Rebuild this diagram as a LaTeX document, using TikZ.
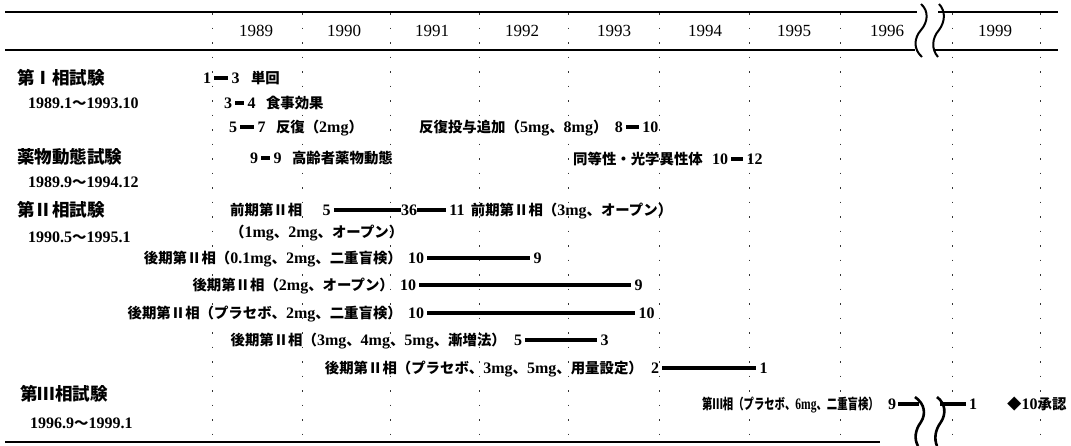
\documentclass[tikz,border=0pt]{standalone}
\usepackage{fontspec}
\usepackage{graphicx}
\setmainfont{Liberation Serif}
\newfontfamily\cjk{Noto Sans CJK JP}[Scale=0.9]
\newcommand\J[1]{{\cjk #1}}
\usetikzlibrary{positioning}
\newcommand\bodyfont{\fontsize{16}{18}\selectfont\bfseries}
\newcommand\headfont{\fontsize{19.5}{22}\selectfont\bfseries}
\newcommand\yrfont{\fontsize{17}{19}\selectfont}
\begin{document}
\begin{tikzpicture}[x=1pt,y=-1pt,
  lbl/.style={inner sep=0pt,anchor=west,font=\bodyfont,text height=11pt,text depth=0pt},
  lbr/.style={inner sep=0pt,anchor=east,font=\bodyfont,text height=11pt,text depth=0pt},
  num/.style={inner sep=0pt,font=\bodyfont,text height=11pt,text depth=0pt},
  head/.style={inner sep=0pt,anchor=west,font=\headfont},
  datel/.style={inner sep=0pt,anchor=west,font=\bodyfont},
  yr/.style={inner sep=0pt,font=\yrfont},
  bar/.style={line width=4.5pt,shorten <=3pt,shorten >=3pt},
  rule/.style={line width=1.4pt},
  gridl/.style={line width=0.9pt,dash pattern=on 1.5pt off 13pt,black!80},
  wave/.style={line width=2pt},
  node distance=10pt]
\useasboundingbox[fill=white] (0,0) rectangle (1071,445);

% dotted year separators
\foreach \x in {212,302,390,479,568,659,749,840,952,1040}
  \draw[gridl] (\x,13) -- (\x,441);

% rules
\draw[rule] (5,12) -- (917,12);
\draw[rule] (938,12) -- (1058,12);
\draw[rule] (5,50) -- (915,50);
\draw[rule] (935,50) -- (1058,50);
\draw[rule] (5,442) -- (880,442);

% years
\node[yr] (y89) at (256,31) {1989};
\node[yr] (y90) at (344,31) {1990};
\node[yr] (y91) at (432,31) {1991};
\node[yr] (y92) at (522,31) {1992};
\node[yr] (y93) at (614,31) {1993};
\node[yr] (y94) at (705,31) {1994};
\node[yr] (y95) at (794,31) {1995};
\node[yr] (y96) at (887,31) {1996};
\node[yr] (y99) at (995,31) {1999};

% header breaks
\draw[wave] (921,4) .. controls (929,11) and (928,22) .. (921,30) .. controls (914,38) and (913,49) .. (922,57);
\draw[wave] (939,4) .. controls (946,11) and (945,22) .. (939,30) .. controls (932,38) and (931,49) .. (938,57);

% left headings
\node[head] (h1) at (17,78) {\J{第Ⅰ相試験}};
\node[datel] (d1) at (28,103) {1989.1\J{～}1993.10};
\node[head] (h2) at (17,157) {\J{薬物動態試験}};
\node[datel] (d2) at (28,182) {1989.9\J{～}1994.12};
\node[head] (h3) at (17,210) {\J{第Ⅱ相試験}};
\node[datel] (d3) at (28,237) {1990.5\J{～}1995.1};
\node[head] (h4) at (20,394) {\J{第Ⅲ相試験}};
\node[datel] (d4) at (30,423) {1996.9\J{～}1999.1};

% row 1
\node[num,anchor=west] (r1s) at (203,78) {1};
\node[num,right=20pt of r1s] (r1e) {3};
\node[lbl,right=11pt of r1e] (r1t) {\J{単回}};
\draw[bar] (r1s) -- (r1e);

% row 2
\node[num,anchor=west] (r2s) at (224,103) {3};
\node[num,right=15pt of r2s] (r2e) {4};
\node[lbl,right=10pt of r2e] (r2t) {\J{食事効果}};
\draw[bar] (r2s) -- (r2e);

% row 3
\node[num,anchor=west] (r3s) at (229,127) {5};
\node[num,right=20pt of r3s] (r3e) {7};
\node[lbl,right=10pt of r3e] (r3t) {\J{反復（}2mg\J{）}};
\draw[bar] (r3s) -- (r3e);
\node[lbl] (r3u) at (419,127) {\J{反復投与追加（}5mg\J{、}8mg\J{）}};
\node[num,right=7pt of r3u] (r3bs) {8};
\node[num,right=19pt of r3bs] (r3be) {10};
\draw[bar] (r3bs) -- (r3be);

% row 4
\node[num,anchor=west] (r4s) at (250,158) {9};
\node[num,right=15pt of r4s] (r4e) {9};
\node[lbl,right=10pt of r4e] (r4t) {\J{高齢者薬物動態}};
\draw[bar] (r4s) -- (r4e);
\node[lbl] (r4u) at (573,159) {\J{同等性・光学異性体}};
\node[num,right=9pt of r4u] (r4bs) {10};
\node[num,right=18pt of r4bs] (r4be) {12};
\draw[bar] (r4bs) -- (r4be);

% row 6
\node[lbl] (r6t) at (230,210) {\J{前期第Ⅱ相}};
\node[num,right=20pt of r6t] (r6s) {5};
\node[num,right=70pt of r6s] (r6m) {36};
\node[num,right=32pt of r6m] (r6e) {11};
\node[lbl,right=6pt of r6e] (r6u) {\J{前期第Ⅱ相（}3mg\J{、オープン）}};
\draw[bar,shorten >=0pt] (r6s) -- (r6m);
\draw[bar,shorten <=0pt] (r6m) -- (r6e);
\node[lbl] (r7t) at (230,232) {\J{（}1mg\J{、}2mg\J{、オープン）}};

% row 8
\node[num,anchor=west] (r8s) at (408,258) {10};
\node[num,right=109pt of r8s] (r8e) {9};
\node[lbr,left=6pt of r8s] (r8t) {\J{後期第Ⅱ相（}0.1mg\J{、}2mg\J{、二重盲検）}};
\draw[bar] (r8s) -- (r8e);

% row 9
\node[num,anchor=west] (r9s) at (400,285) {10};
\node[num,right=218pt of r9s] (r9e) {9};
\node[lbr,left=6pt of r9s] (r9t) {\J{後期第Ⅱ相（}2mg\J{、オープン）}};
\draw[bar] (r9s) -- (r9e);

% row 10
\node[num,anchor=west] (r10s) at (408,313) {10};
\node[num,right=214pt of r10s] (r10e) {10};
\node[lbr,left=6pt of r10s] (r10t) {\J{後期第Ⅱ相（プラセボ、}2mg\J{、二重盲検）}};
\draw[bar] (r10s) -- (r10e);

% row 11
\node[num,anchor=west] (r11s) at (514,340) {5};
\node[num,right=78pt of r11s] (r11e) {3};
\node[lbr,left=8pt of r11s] (r11t) {\J{後期第Ⅱ相（}3mg\J{、}4mg\J{、}5mg\J{、漸増法）}};
\draw[bar] (r11s) -- (r11e);

% row 12
\node[num,anchor=west] (r12s) at (651,368) {2};
\node[num,right=100pt of r12s] (r12e) {1};
\node[lbr,left=8pt of r12s] (r12t) {\J{後期第Ⅱ相（プラセボ、}3mg\J{、}5mg\J{、用量設定）}};
\draw[bar] (r12s) -- (r12e);

% row 13 (phase III)
\node[num,anchor=west] (r13s) at (888,404) {9};
\node[lbr,left=9pt of r13s] (r13t) {\scalebox{0.72}[1]{\J{第Ⅲ相（プラセボ、}6mg\J{、二重盲検）}}};
\coordinate (w1) at (919,404);
\coordinate (w2) at (940,404);
\node[num,anchor=west] (r13e) at (969,404) {1};
\draw[bar,shorten <=2pt,shorten >=0pt] (r13s) -- (w1);
\draw[bar,shorten <=0pt] (w2) -- (r13e);
\node[lbl] (r13u) at (1007,404) {\J{◆}10\J{承認}};
\draw[wave,line width=2.6pt] (915,397) .. controls (925,404) and (926,414) .. (921,422) .. controls (915,430) and (914,439) .. (918,446);
\draw[wave,line width=2.6pt] (937,397) .. controls (946,404) and (946,414) .. (941,422) .. controls (935,430) and (934,439) .. (937,446);
\end{tikzpicture}
\end{document}
